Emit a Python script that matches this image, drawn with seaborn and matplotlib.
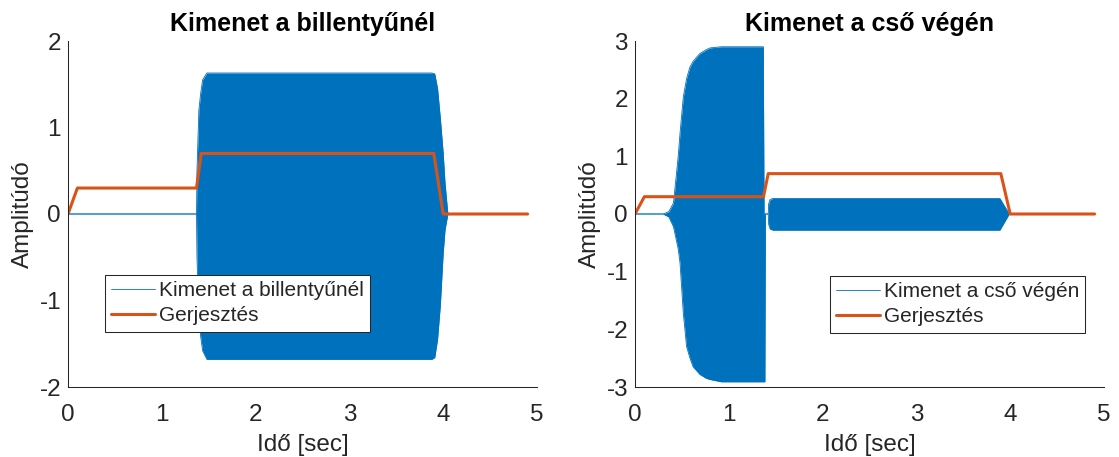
import numpy as np
import seaborn as sns
import matplotlib.pyplot as plt

# Gerjesztés (excitation) breakpoints, same for both panels
t_gerj = [0, 0.1, 1.37, 1.42, 3.9, 4.0, 4.9]
gerj = [0, 0.3, 0.3, 0.7, 0.7, 0, 0]

# envelope of the output at the key (billentyű)
t_bill = [0, 1.37, 1.375, 1.395, 1.415, 1.435, 1.48, 3.88, 3.91, 3.94, 3.97, 4.00, 4.02, 4.05, 4.9]
bill_upper = [0, 0, 0.5, 1.2, 1.40, 1.55, 1.63, 1.63, 1.62, 1.45, 1.1, 0.7, 0.35, 0, 0]
bill_lower = [0, 0, -0.5, -1.2, -1.42, -1.58, -1.68, -1.68, -1.66, -1.45, -1.05, -0.45, -0.18, 0, 0]

# envelope of the output at the end of the pipe (cső vége)
t_cso = [0, 0.30, 0.36, 0.41, 0.46, 0.48, 0.515, 0.55, 0.586, 0.62, 0.69, 0.76, 0.80, 0.92,
         1.368, 1.376, 1.385, 1.39, 1.42, 1.425, 1.44, 1.47, 3.89, 3.99, 4.9]
cso_upper = [0, 0, 0.04, 0.19, 0.99, 1.4, 2.03, 2.35, 2.55, 2.65, 2.78, 2.85, 2.88, 2.9,
             2.9, 0, 0, 0, 0, 0.18, 0.25, 0.27, 0.27, 0, 0]
cso_lower = [0, 0, -0.05, -0.22, -0.6, -0.85, -1.72, -2.3, -2.5, -2.65, -2.78, -2.85, -2.87, -2.91,
             -2.91, -2.91, -2.91, 0, 0, -0.18, -0.26, -0.28, -0.28, 0, 0]

blue = '#0072BD'
orange = '#D95319'
dark = '#262626'

sns.set_style('white')
plt.rcParams['font.family'] = ['Liberation Sans', 'DejaVu Sans']
plt.rcParams['axes.unicode_minus'] = False

fig = plt.figure(figsize=(11.19, 4.57), dpi=100)
ax1 = fig.add_axes([68 / 1119, 70 / 457, 469 / 1119, 346 / 457])
ax2 = fig.add_axes([635 / 1119, 70 / 457, 469 / 1119, 346 / 457])

panels = [
    (ax1, t_bill, bill_upper, bill_lower, 'Kimenet a billentyűnél', 2, (0.078, 0.324)),
    (ax2, t_cso, cso_upper, cso_lower, 'Kimenet a cső végén', 3, (0.415, 0.321)),
]

for ax, t, up, lo, name, ylim, leg_pos in panels:
    ax.fill_between(t, lo, up, color=blue, lw=0)
    sns.lineplot(x=t, y=up, ax=ax, color=blue, lw=0.6, sort=False, estimator=None, label=name)
    sns.lineplot(x=t, y=lo, ax=ax, color=blue, lw=0.6, sort=False, estimator=None, label='_nolegend_')
    sns.lineplot(x=t_gerj, y=gerj, ax=ax, color=orange, lw=2.2, sort=False, estimator=None, label='Gerjesztés')

    ax.set_xlim(0, 5)
    ax.set_ylim(-ylim, ylim)
    ax.set_xticks(range(0, 6))
    ax.set_yticks(range(-ylim, ylim + 1))
    ax.set_title(name, fontsize=18, fontweight='bold', color='black', pad=7)
    ax.set_xlabel('Idő [sec]', fontsize=17.5, color=dark, labelpad=6)
    ax.set_ylabel('Amplitúdó', fontsize=17.5, color=dark, labelpad=4)
    ax.tick_params(direction='in', length=4.5, width=0.75, colors=dark, labelsize=17.5)
    ax.tick_params(axis='x', pad=12)
    ax.tick_params(axis='y', pad=5)
    sns.despine(ax=ax)
    for s in ('left', 'bottom'):
        ax.spines[s].set_color(dark)
        ax.spines[s].set_linewidth(0.75)

    leg = ax.legend(loc='upper left', bbox_to_anchor=leg_pos, borderaxespad=0, fontsize=15,
                    frameon=True, fancybox=False, framealpha=1, edgecolor=dark,
                    handlelength=2.1, handletextpad=0.2, labelspacing=0.3, borderpad=0.3)
    leg.get_frame().set_linewidth(0.75)

fig.savefig('out.png', dpi=100)
